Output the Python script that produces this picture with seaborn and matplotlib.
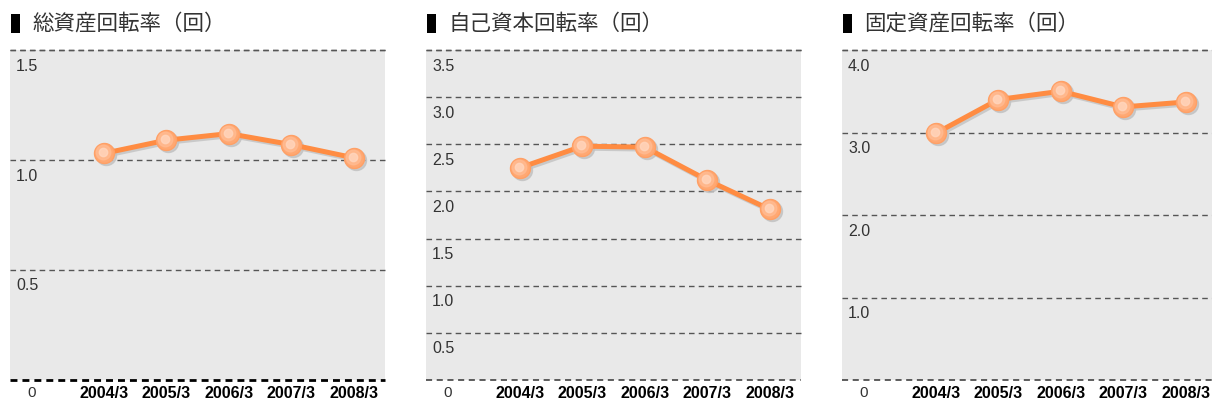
import matplotlib
matplotlib.use('Agg')
import matplotlib.pyplot as plt
import matplotlib.transforms as mtransforms
from matplotlib.patches import Rectangle
import seaborn as sns
import pandas as pd

# data
years = ['2004/3', '2005/3', '2006/3', '2007/3', '2008/3']
titles = ['総資産回転率（回）', '自己資本回転率（回）', '固定資産回転率（回）']
total_asset_turnover = [1.03, 1.09, 1.12, 1.07, 1.01]
equity_turnover = [2.25, 2.48, 2.47, 2.12, 1.81]
fixed_asset_turnover = [2.99, 3.40, 3.50, 3.31, 3.37]
y_tops = [1.5, 3.5, 4.0]
y_ticks = [[1.5, 1.0, 0.5],
           [3.5, 3.0, 2.5, 2.0, 1.5, 1.0, 0.5],
           [4.0, 3.0, 2.0, 1.0]]

sns.set_style('white')
plt.rcParams['font.family'] = ['Liberation Sans', 'Noto Sans CJK JP', 'DejaVu Sans']

W, H = 1212, 404
fig = plt.figure(figsize=(W / 100, H / 100), dpi=100)
fig.patch.set_facecolor('white')

series = [total_asset_turnover, equity_turnover, fixed_asset_turnover]
lefts = [10, 426, 842]
orange = '#ff8c42'

for i, (vals, title, top, ticks, left) in enumerate(zip(series, titles, y_tops, y_ticks, lefts)):
    ax = fig.add_axes([left / W, 24 / H, 375 / W, 330 / H])
    ax.set_facecolor('#e9e9e9')
    for s in ax.spines.values():
        s.set_visible(False)

    df = pd.DataFrame({'pos': range(len(years)), 'value': vals})

    # dashed grid
    for v in [top] + ticks:
        ax.axhline(v, color='#555555', lw=1.0, ls=(0, (4, 3)), zorder=1, clip_on=False)
    if i == 0:
        ax.axhline(0, color='black', lw=2.0, ls=(0, (2.5, 1.8)), zorder=1, clip_on=False)
    else:
        ax.axhline(0, color='#333333', lw=1.1, ls=(0, (4, 3)), zorder=1, clip_on=False)

    # soft shadow under line and markers
    shadow = mtransforms.offset_copy(ax.transData, fig=fig, x=2, y=-2, units='dots')
    ax.plot(df['pos'], df['value'], color='#c2c2c2', lw=3.6, marker='o', ms=14.4,
            transform=shadow, zorder=2, alpha=0.8)

    sns.lineplot(data=df, x='pos', y='value', ax=ax, color=orange, lw=3.6,
                 marker='o', markersize=14.4, markerfacecolor='#ffa872',
                 markeredgecolor='#ffa066', markeredgewidth=1.0, zorder=3)

    # fake radial highlight on the markers
    hl = mtransforms.offset_copy(ax.transData, fig=fig, x=-1, y=1, units='dots')
    ax.plot(df['pos'], df['value'], ls='none', marker='o', ms=10.5, color='#ffbb92',
            transform=hl, zorder=4, alpha=0.8)
    ax.plot(df['pos'], df['value'], ls='none', marker='o', ms=6, color='#ffd6be',
            transform=hl, zorder=5, alpha=0.8)

    ax.set_xlim(-1.5, 4.5)
    ax.set_ylim(0, top)
    ax.set_xlabel('')
    ax.set_ylabel('')

    ax.set_xticks([-1.15] + list(range(len(years))))
    ax.set_xticklabels(['0'] + years)
    ax.tick_params(axis='x', length=0, pad=4, labelsize=11.5, labelcolor='black')
    labels = ax.get_xticklabels()
    for lab in labels[1:]:
        lab.set_fontweight('bold')
    labels[0].set_color('#333333')
    labels[0].set_fontsize(11)
    ax.set_yticks([])

    # value labels sit just below each grid line
    for v in ticks:
        ax.annotate(f'{v:.1f}', xy=(0, v), xycoords=('axes fraction', 'data'),
                    xytext=(6, -16), textcoords='offset pixels', ha='left', va='center',
                    fontsize=11.5, color='#333333')

    # title with black marker bar
    fig.patches.append(Rectangle((left + 1, H - 33), 9, 19, transform=None,
                                 facecolor='black', edgecolor='none'))
    fig.text((left + 22) / W, 1 - 24 / H, title, fontsize=15.5, color='#333333',
             va='center', ha='left', family=['Noto Sans CJK JP', 'DejaVu Sans'])

fig.savefig('out.png', dpi=100)
